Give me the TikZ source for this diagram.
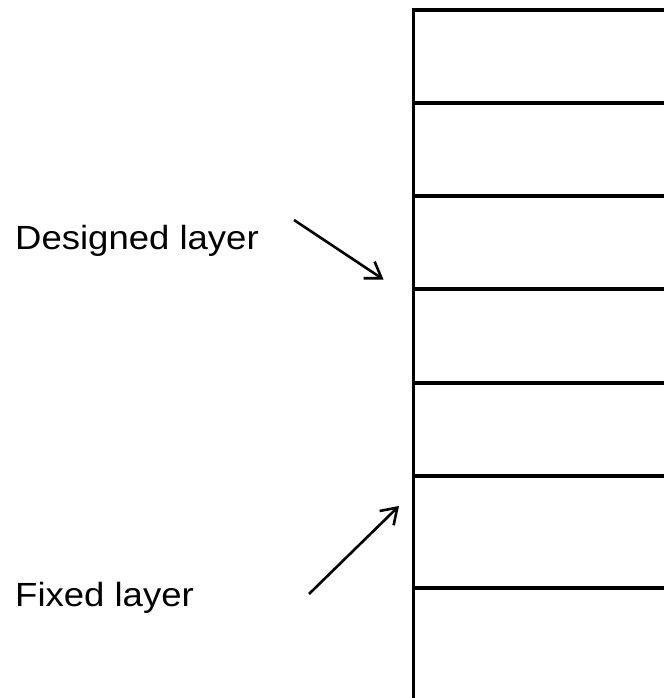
\documentclass[tikz,border=0pt]{standalone}
\usepackage{fontspec}
\setmainfont{Liberation Sans}
\usetikzlibrary{arrows.meta}
\begin{document}
\begin{tikzpicture}[x=1pt,y=-1pt,
  layerline/.style={line width=3.2pt},
  pointer/.style={line width=2.6pt,-{Straight Barb[length=15pt,width=20pt,line width=2.6pt]}},
  lbl/.style={anchor=base west,inner sep=0pt,font=\fontsize{33.5}{40}\selectfont}]
\useasboundingbox (0,0) rectangle (664,698);
% layered column
\coordinate (tl) at (413.5,10);
\coordinate (bl) at (413.5,698);
\draw[layerline] (bl) -- (tl) -- (664,10);
\foreach \yy in {103,196,289,383,476,588}{
  \draw[layerline] (413.5,\yy) -- (664,\yy);
}
% labels
\node[lbl] (designed) at (15,249.5) {\scalebox{1.09}[1]{Designed layer}};
\node[lbl] (fixed) at (15,606) {\scalebox{1.09}[1]{Fixed layer}};
% arrows
\coordinate (dstart) at (294,220);
\coordinate (dend) at (383.5,279.5);
\coordinate (fstart) at (309,594);
\coordinate (fend) at (399,506);
\draw[pointer] (dstart) -- (dend);
\draw[pointer] (fstart) -- (fend);
\end{tikzpicture}
\end{document}
